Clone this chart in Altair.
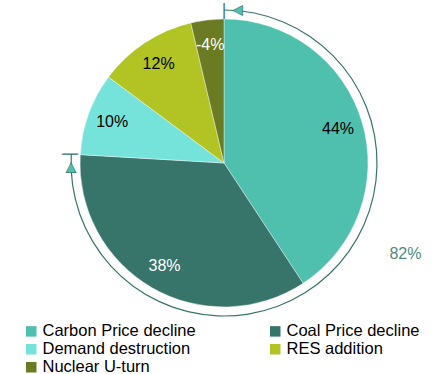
import altair as alt
import pandas as pd

categories = ["Carbon Price decline", "Coal Price decline", "Demand destruction", "RES addition", "Nuclear U-turn"]
values = [44, 38, 10, 12, -4]
labels = ["44%", "38%", "10%", "12%", "-4%"]
colors = ["#4FBFAE", "#37756B", "#76E3DA", "#B2C423", "#6B7B23"]
label_colors = ["#000000", "#FFFFFF", "#000000", "#000000", "#FFFFFF"]
bracket_label = "82%"

df = pd.DataFrame({
    "cat": categories,
    "value": values,
    "size": [abs(v) for v in values],
    "label": labels,
    "lc": label_colors,
    "order": list(range(len(categories))),
})

# legend laid out column by column: reorder so it reads row by row like the original
legend_order = [0, 2, 4, 1, 3]
leg_domain = [categories[i] for i in legend_order]
leg_range = [colors[i] for i in legend_order]

total = df["size"].sum()
bracket_end = float(df["size"].iloc[0] + df["size"].iloc[1])
ring_df = pd.DataFrame({"start": [0.0], "end": [bracket_end]})

PIE_R = 144
ARC_R = 153
step = 1.5 * total / 108.0

heads_df = pd.DataFrame({"t": [step, bracket_end - step], "ang": [270, 0], "g": ["▲", "▲"]})
ticks_df = pd.DataFrame({"t": [0.0, bracket_end], "ang": [0, 90], "g": ["|", "|"]})
lab_df = pd.DataFrame({"t": [35.0], "txt": [bracket_label]})

color_scale = alt.Scale(domain=leg_domain, range=leg_range)

base = alt.Chart(df).encode(
    theta=alt.Theta("size:Q", stack=True),
    order=alt.Order("order:Q"),
)

pie = base.mark_arc(radius=PIE_R, stroke="#ffffff", strokeWidth=0.4).encode(
    color=alt.Color(
        "cat:N",
        scale=color_scale,
        sort=leg_domain,
        legend=alt.Legend(
            title=None,
            orient="none",
            legendX=9,
            legendY=323,
            columns=2,
            columnPadding=71,
            rowPadding=1,
            symbolType="square",
            symbolSize=110,
            symbolStrokeWidth=0,
            labelOffset=3,
            labelFont="Liberation Sans",
            labelFontSize=16.5,
            labelColor="#000000",
            labelLimit=300,
        ),
    )
)

text = base.mark_text(radius=119, font="Liberation Sans", fontSize=16).encode(
    text="label:N",
    color=alt.Color("lc:N", scale=None),
)

ring = alt.Chart(ring_df).mark_arc(radius=ARC_R + 0.6, radius2=ARC_R - 0.6, color="#37756B").encode(
    theta=alt.Theta("start:Q", stack=None),
    theta2="end:Q",
)

heads = alt.Chart(heads_df).mark_text(
    radius=ARC_R, font="DejaVu Sans", fontSize=13, color="#4FBFAE",
    stroke="#37756B", strokeWidth=0.6, baseline="middle", align="center",
).encode(
    theta=alt.Theta("t:Q", stack=None),
    angle=alt.Angle("ang:Q", scale=None),
    text="g:N",
)

ticks = alt.Chart(ticks_df).mark_text(
    radius=ARC_R, font="DejaVu Sans", fontSize=15, color="#37756B",
    baseline="middle", align="center",
).encode(
    theta=alt.Theta("t:Q", stack=None),
    angle=alt.Angle("ang:Q", scale=None),
    text="g:N",
)

brk = alt.Chart(lab_df).mark_text(
    radius=203, font="Liberation Sans", fontSize=16, color="#4E8C82",
).encode(
    theta=alt.Theta("t:Q", stack=None),
    text="txt:N",
)

chart = alt.layer(pie, text, ring, heads, ticks, brk).properties(
    width=420,
    height=326,
    padding={"left": 14, "top": 0, "right": 0, "bottom": 48},
    autosize=alt.AutoSizeParams(type="none"),
    background="#ffffff",
).configure_view(stroke=None)

chart.save("out.html", embed_options={"renderer": "svg", "actions": False})
